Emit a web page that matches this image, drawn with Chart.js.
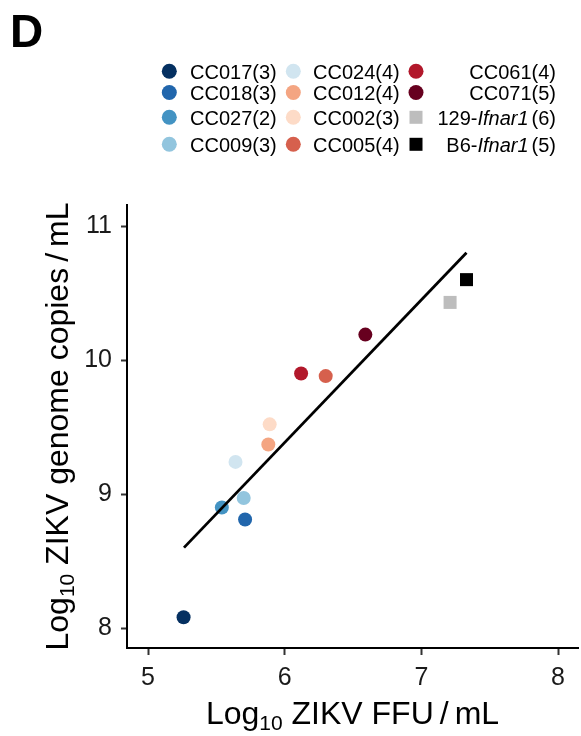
<!DOCTYPE html>
<html><head><meta charset="utf-8">
<script src="https://cdn.jsdelivr.net/npm/chart.js@4/dist/chart.umd.min.js"></script>
<style>html,body{margin:0;padding:0;background:#fff;}#wrap{width:581px;height:736px;position:relative;}</style>
</head><body><div id="wrap"><canvas id="c" width="581" height="736"></canvas></div>
<script>
// ---- data ----
const strains = ['CC017','CC018','CC027','CC009','CC024','CC012','CC002','CC005','CC061','CC071','129-Ifnar1','B6-Ifnar1'];
const counts  = [3,3,2,3,4,4,3,4,4,5,6,5];
const ffu     = [5.26,5.71,5.54,5.70,5.64,5.88,5.89,6.30,6.12,6.59,7.21,7.33];
const genome  = [8.08,8.81,8.90,8.97,9.24,9.37,9.52,9.88,9.90,10.19,10.43,10.60];
const fitX    = [5.263,7.33];
const fitY    = [8.60,10.80];
const xTicks  = [5,6,7,8];
const yTicks  = [8,9,10,11];
const panelLabel = 'D';
const xTitle = ['Log','10',' ZIKV FFU','/','mL'];
const yTitle = ['Log','10',' ZIKV genome copies','/','mL'];

// ---- styles ----
const colors = ['#053061','#2166ac','#4393c3','#92c5de','#d1e5f0','#f4a582','#fddbc7','#d6604d','#b2182b','#67001f','#bdbdbd','#000000'];
const shapes = strains.map(s => s.includes('Ifnar1') ? 'rect' : 'circle');
const FAM = '"Liberation Sans", Arial, Helvetica, sans-serif';
const PLOT_RIGHT = 578;

function drawRich(ctx, segs, x, y, align) {
  let total = 0;
  segs.forEach(s => { ctx.font = s.font; s.w = ctx.measureText(s.text).width + (s.padL||0) + (s.padR||0); total += s.w; });
  let cx = align === 'center' ? x - total/2 : (align === 'right' ? x - total : x);
  ctx.textAlign = 'left'; ctx.textBaseline = 'alphabetic';
  segs.forEach(s => { ctx.font = s.font; ctx.fillText(s.text, cx + (s.padL||0), y + (s.dy||0)); cx += s.w; });
}
function titleSegs(t) {
  const big = '32px ' + FAM, small = '21px ' + FAM;
  return [
    {text:t[0], font:big},
    {text:t[1], font:small, dy:6},
    {text:t[2], font:big},
    {text:t[3], font:big, padL:6, padR:6},
    {text:t[4], font:big}
  ];
}

const fixArea = {
  id:'fixArea',
  afterLayout(chart) {
    const ca = chart.chartArea;
    const xs = chart.scales.x;
    ca.right = PLOT_RIGHT; ca.width = ca.right - ca.left;
    xs.right = PLOT_RIGHT; xs.width = xs.right - xs.left;
    xs.configure();
  }
};

const decor = {
  id:'decor',
  afterDraw(chart) {
    const ctx = chart.ctx;
    const ca = chart.chartArea;
    ctx.save();
    ctx.fillStyle = '#000';
    // panel label
    ctx.font = 'bold 46px ' + FAM;
    ctx.textAlign = 'left'; ctx.textBaseline = 'alphabetic';
    ctx.fillText(panelLabel, 10, 47);
    // axis titles
    drawRich(ctx, titleSegs(xTitle), (ca.left + ca.right)/2, 724, 'center');
    ctx.save();
    ctx.translate(68, (ca.top + ca.bottom)/2);
    ctx.rotate(-Math.PI/2);
    drawRich(ctx, titleSegs(yTitle), 0, 0, 'center');
    ctx.restore();
    // legend
    const rowY = [71.3, 92.5, 117.3, 144.3];
    const colMarker = [169.3, 293.3, 416];
    const colText = [190, 313, 556];
    const reg = '20px ' + FAM, ita = 'italic 20px ' + FAM;
    strains.forEach((s, i) => {
      const col = Math.floor(i/4), row = i % 4;
      const mx = colMarker[col], my = rowY[row];
      ctx.fillStyle = colors[i];
      if (shapes[i] === 'circle') {
        ctx.beginPath(); ctx.arc(mx, my, 7.5, 0, Math.PI*2); ctx.fill();
      } else {
        ctx.fillRect(mx - 6.5, my - 6.5, 13, 13);
      }
      ctx.fillStyle = '#000';
      let segs;
      if (s.includes('-Ifnar1')) {
        const p = s.split('-');
        segs = [{text:p[0] + '-', font:reg},{text:p[1], font:ita, padR:3},{text:'(' + counts[i] + ')', font:reg}];
      } else {
        segs = [{text:s + '(' + counts[i] + ')', font:reg}];
      }
      drawRich(ctx, segs, colText[col], my + 7.2, col === 2 ? 'right' : 'left');
    });
    ctx.restore();
  }
};

const points = ffu.map((x, i) => ({x:x, y:genome[i]}));
const fitLine = fitX.map((x, i) => ({x:x, y:fitY[i]}));

new Chart(document.getElementById('c'), {
  type:'scatter',
  data:{
    datasets:[
      {type:'line', data:fitLine, borderColor:'#000', borderWidth:2.8, pointRadius:0, fill:false, order:0},
      {type:'scatter', data:points, backgroundColor:colors, borderWidth:0,
       pointStyle:shapes, pointRadius:shapes.map(s => s === 'rect' ? 9.2 : 7),
       pointHoverRadius:shapes.map(s => s === 'rect' ? 9.2 : 7), order:1}
    ]
  },
  options:{
    responsive:false, devicePixelRatio:1, animation:false,
    layout:{padding:{top:205, right:3, left:0, bottom:0}},
    plugins:{legend:{display:false}, tooltip:{enabled:false}},
    scales:{
      x:{type:'linear', min:4.846, max:8.146,
        afterBuildTicks:s => { s.ticks = xTicks.map(v => ({value:v})); },
        afterFit:s => { s.height = 88; },
        border:{display:true, color:'#000', width:2},
        grid:{display:true, drawOnChartArea:false, drawTicks:true, tickLength:7, tickWidth:2, tickColor:'#333'},
        ticks:{font:{family:FAM, size:25}, color:'#1a1a1a', padding:8, maxRotation:0}
      },
      y:{type:'linear', min:7.851, max:11.157,
        afterBuildTicks:s => { s.ticks = yTicks.map(v => ({value:v})); },
        afterFit:s => { s.width = 127; },
        border:{display:true, color:'#000', width:2},
        grid:{display:true, drawOnChartArea:false, drawTicks:true, tickLength:6, tickWidth:2, tickColor:'#333'},
        ticks:{font:{family:FAM, size:25}, color:'#1a1a1a', padding:9}
      }
    }
  },
  plugins:[fixArea, decor]
});
</script>
</body></html>
